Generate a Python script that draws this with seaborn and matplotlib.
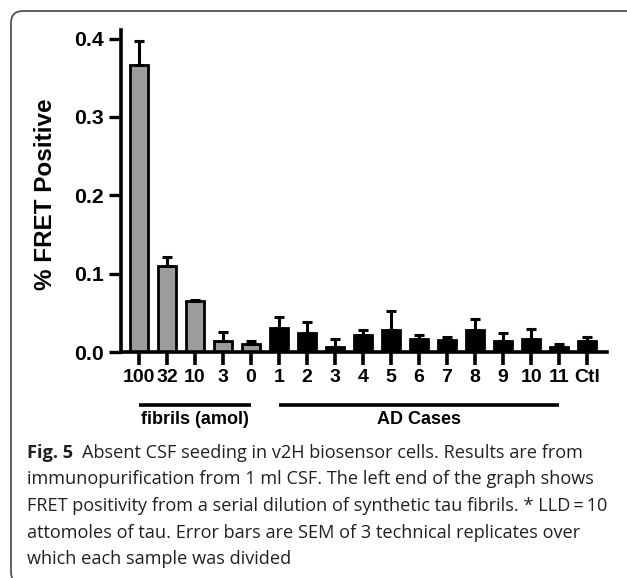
import matplotlib
matplotlib.use("Agg")
import matplotlib.pyplot as plt
import matplotlib.transforms as mtransforms
import seaborn as sns
import pandas as pd
import numpy as np
from matplotlib.patches import FancyBboxPatch

# ---- data ----
sample_ids = ["f100", "f32", "f10", "f3", "f0",
              "ad1", "ad2", "ad3", "ad4", "ad5", "ad6", "ad7", "ad8", "ad9", "ad10", "ad11", "ctl"]
tick_labels = ["100", "32", "10", "3", "0", "1", "2", "3", "4", "5", "6", "7", "8", "9", "10", "11", "Ctl"]
groups = ["fibrils"] * 5 + ["AD"] * 11 + ["Ctl"]
means = [0.366, 0.110, 0.065, 0.014, 0.0106,
         0.030, 0.0247, 0.0068, 0.0213, 0.028, 0.0166, 0.0153, 0.0285, 0.0145, 0.0166, 0.006, 0.0145]
sems = [0.031, 0.011, 0.002, 0.0116, 0.003,
        0.0147, 0.0133, 0.0098, 0.0067, 0.0244, 0.0047, 0.0043, 0.0135, 0.0094, 0.0124, 0.0046, 0.0043]
group_brackets = [("fibrils (amol)", "f100", "f0"), ("AD Cases", "ad1", "ad11")]
y_ticks = [0.0, 0.1, 0.2, 0.3, 0.4]
y_label = "% FRET Positive"
caption_bold = "Fig. 5"
caption_lines = [
    "Absent CSF seeding in v2H biosensor cells. Results are from",
    "immunopurification from 1 ml CSF. The left end of the graph shows",
    "FRET positivity from a serial dilution of synthetic tau fibrils. * LLD\u2009=\u200910",
    "attomoles of tau. Error bars are SEM of 3 technical replicates over",
    "which each sample was divided",
]

df = pd.DataFrame({"sample": sample_ids, "mean": means, "sem": sems, "group": groups})

sns.set_theme(style="ticks")
plt.rcParams["font.family"] = ["Liberation Sans", "DejaVu Sans"]

fig = plt.figure(figsize=(6.27, 5.78), dpi=100)
ax = fig.add_axes([121 / 627, 1 - 352 / 578, (607 - 121) / 627, (352 - 30) / 578])

palette = {"fibrils": "#9c9c9c", "AD": "#000000", "Ctl": "#000000"}
sns.barplot(data=df, x="sample", y="mean", hue="group", palette=palette, order=sample_ids,
            dodge=False, width=0.64, edgecolor="black", linewidth=2.0, legend=False,
            errorbar=None, saturation=1, ax=ax)

xpos = np.array([sample_ids.index(s) for s in df["sample"]])
ax.errorbar(xpos, df["mean"], yerr=[np.zeros(len(df)), df["sem"]], fmt="none",
            ecolor="black", elinewidth=2.2, capsize=3.6, capthick=2.2, zorder=1)

ax.set_ylim(0, 0.411)
ax.set_xlim(-0.64, 16.71)
ax.set_yticks(y_ticks)
ax.set_yticklabels([f"{v:.1f}" for v in y_ticks])
ax.set_xticks(range(len(sample_ids)))
ax.set_xticklabels(tick_labels)
for lab in ax.get_yticklabels():
    lab.set_fontweight("bold")
    lab.set_fontsize(15.3)
    lab.set_color("black")
for lab in ax.get_xticklabels():
    lab.set_fontweight("bold")
    lab.set_fontsize(14)
    lab.set_color("black")
# the first (three-digit) label sits slightly left of its tick, as in the original
first = ax.get_xticklabels()[0]
first.set_transform(first.get_transform() +
                    mtransforms.ScaledTranslation(-5 / 100, 0, fig.dpi_scale_trans))
ax.tick_params(axis="y", length=9, width=2.4, pad=3, colors="black")
ax.tick_params(axis="x", length=9.4, width=2.6, pad=3, colors="black")
ax.set_xlabel("")
ax.set_ylabel(y_label, fontsize=17.5, fontweight="bold", color="black")
ax.yaxis.label.set_va("center")
ax.yaxis.set_label_coords((46 - 121) / 486, 0.49)
sns.despine(ax=ax)
for s in ["left", "bottom"]:
    ax.spines[s].set_linewidth(2.6)
    ax.spines[s].set_color("black")
ax.patch.set_alpha(0)

# group brackets
trans = ax.get_xaxis_transform()
for name, a, b in group_brackets:
    i0, i1 = sample_ids.index(a), sample_ids.index(b)
    ax.plot([i0, i1], [-0.1646, -0.1646], color="black", lw=2.6, transform=trans, clip_on=False,
            solid_capstyle="butt")
    ax.text((i0 + i1) / 2, -0.211, name, transform=trans, ha="center", va="center",
            fontsize=13, fontweight="bold", color="black")

# border
box = FancyBboxPatch((11, -6), 640, 578 - 11 + 6, boxstyle="round,pad=0,rounding_size=12",
                     transform=None, fill=False, edgecolor="#555555", linewidth=1.3)
fig.patches.append(box)
box.set_figure(fig)

# caption
cap_font = ["Open Sans", "DejaVu Sans"]
cap_size = 13.1
x0 = 27 / 627
y_first = 1 - 453 / 578
dy = 26.5 / 578
t = fig.text(x0, y_first, caption_bold, fontsize=cap_size, fontweight="bold", family=cap_font,
             va="center", ha="left", color="#231f20")
renderer = fig.canvas.get_renderer()
bb = t.get_window_extent(renderer)
x_rest = (bb.x1 + 9) / 627
fig.text(x_rest, y_first, caption_lines[0], fontsize=cap_size, family=cap_font,
         va="center", ha="left", color="#231f20")
for i, line in enumerate(caption_lines[1:], start=1):
    fig.text(x0, y_first - i * dy, line, fontsize=cap_size, family=cap_font,
             va="center", ha="left", color="#231f20")

fig.savefig("out.png", dpi=100)
